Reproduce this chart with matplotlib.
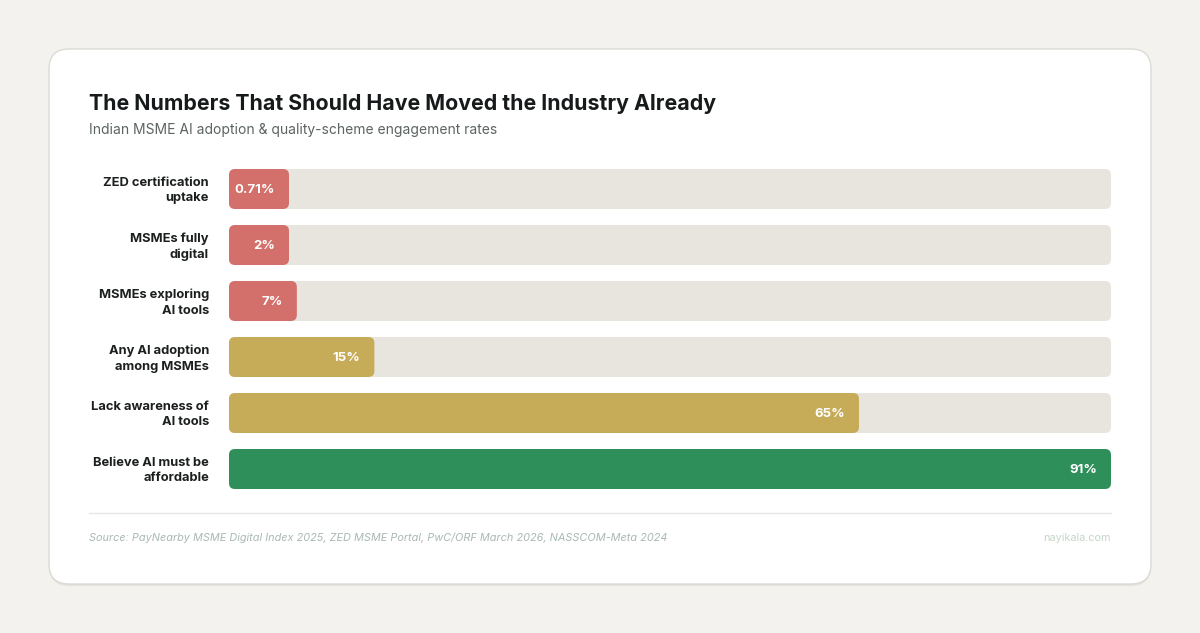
import matplotlib.pyplot as plt
from matplotlib.patches import FancyBboxPatch

plt.rcParams['font.family'] = ['Inter', 'DejaVu Sans']

# data
labels = ["ZED certification\nuptake", "MSMEs fully\ndigital", "MSMEs exploring\nAI tools",
          "Any AI adoption\namong MSMEs", "Lack awareness of\nAI tools", "Believe AI must be\naffordable"]
values = [0.71, 2, 7, 15, 65, 91]
value_text = ["0.71%", "2%", "7%", "15%", "65%", "91%"]
colors = ["#d4706b", "#d4706b", "#d4706b", "#c6ab58", "#c6ab58", "#2e8f5a"]

W, H = 1200, 633
fig = plt.figure(figsize=(W / 100, H / 100), dpi=100)
fig.patch.set_facecolor("#f4f2ee")

# background axes in pixel coords
bg = fig.add_axes([0, 0, 1, 1])
bg.set_xlim(0, W)
bg.set_ylim(H, 0)
bg.axis("off")
# card shadow + card
bg.add_patch(FancyBboxPatch((49, 51), 1102, 535, boxstyle="round,pad=0,rounding_size=20",
                            fc="#e6e3dc", ec="none", zorder=0))
bg.add_patch(FancyBboxPatch((49, 49), 1102, 535, boxstyle="round,pad=0,rounding_size=20",
                            fc="white", ec="#dcdad5", lw=1, zorder=1))
bg.plot([89, 1111], [513, 513], color="#e6e6e4", lw=1, zorder=2)

bg.text(89, 110, "The Numbers That Should Have Moved the Industry Already", fontsize=15.35,
        fontweight="bold", color="#161a1a", va="baseline", ha="left", zorder=3)
bg.text(89, 134, "Indian MSME AI adoption & quality-scheme engagement rates", fontsize=10,
        color="#5c6462", va="baseline", ha="left", zorder=3)
bg.text(89, 541, "Source: PayNearby MSME Digital Index 2025, ZED MSME Portal, PwC/ORF March 2026, NASSCOM-Meta 2024",
        fontsize=7.85, style="italic", color="#a9b9b1", va="baseline", ha="left", zorder=3)
bg.text(1111, 541, "nayikala.com", fontsize=7.85, color="#c5d6ca", va="baseline", ha="right", zorder=3)

# bar axes
x0, x1 = 229, 1111
y_top, y_bot = 161, 497
ax = fig.add_axes([x0 / W, 1 - y_bot / H, (x1 - x0) / W, (y_bot - y_top) / H])
ax.set_xlim(0, max(values))
ax.set_ylim(len(values) - 0.5, -0.5)
ax.axis("off")
ax.patch.set_alpha(0)

px_per_x = (x1 - x0) / max(values)
px_per_y = (y_bot - y_top) / len(values)
bar_h = 40 / px_per_y
rs = 6 / px_per_x
aspect = px_per_x / px_per_y
min_w = 60 / px_per_x
pad = 14 / px_per_x

for i, (lab, v, t, c) in enumerate(zip(labels, values, value_text, colors)):
    ax.add_patch(FancyBboxPatch((0, i - bar_h / 2), max(values), bar_h,
                                boxstyle=f"round,pad=0,rounding_size={rs}", mutation_aspect=aspect,
                                fc="#e8e5df", ec="none"))
    w = max(v, min_w)
    ax.add_patch(FancyBboxPatch((0, i - bar_h / 2), w, bar_h,
                                boxstyle=f"round,pad=0,rounding_size={rs}", mutation_aspect=aspect,
                                fc=c, ec="none"))
    ax.text(w - pad, i + 1 / px_per_y, t, ha="right", va="center", fontsize=9.5, fontweight="bold", color="white")
    ax.text(-20 / px_per_x, i + 1.5 / px_per_y, lab, ha="right", va="center", fontsize=9.3, fontweight="bold",
            color="#1c1f1f", linespacing=1.4, clip_on=False)

fig.savefig("out.png", dpi=100, facecolor=fig.get_facecolor())
